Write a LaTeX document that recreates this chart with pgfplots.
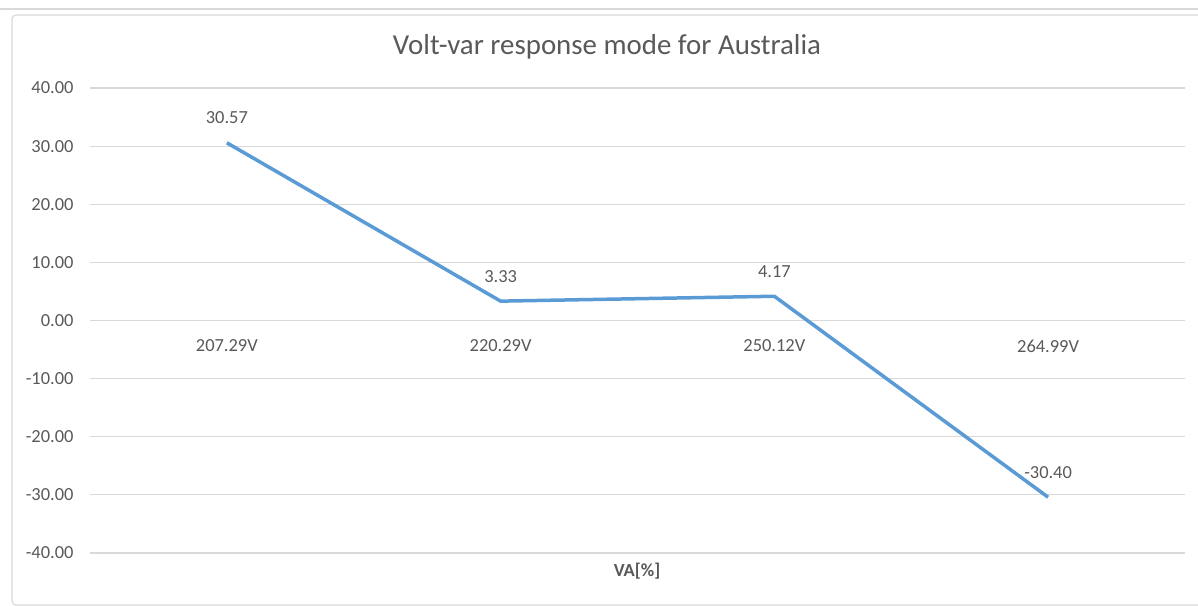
\documentclass[border=0pt]{standalone}
\usepackage{pgfplots}
\pgfplotsset{compat=1.18}
\usepackage{fontspec}
\setmainfont{Carlito}
\definecolor{txt}{HTML}{595959}
\definecolor{gridc}{HTML}{D9D9D9}
\definecolor{linec}{HTML}{5B9BD5}
\begin{document}
\begin{tikzpicture}
\path[use as bounding box] (0,0) rectangle (1198bp,606bp);
\draw[gridc, line width=1.5bp] (0,597bp) -- (1198bp,597bp);
\draw[gridc, line width=1.2bp, rounded corners=4bp] (1198bp,1bp) -- (12bp,1bp) -- (12bp,591bp) -- (1198bp,591bp);
\begin{axis}[at={(90bp,53bp)}, anchor=south west, scale only axis,
  width=1095bp, height=465bp,
  xmin=-0.5, xmax=3.5, ymin=-40, ymax=40, ytick={-40,-30,...,40},
  xtick={0,1,2,3}, xticklabels={207.29V,220.29V,250.12V,264.99V},
  axis line style={draw=none}, major tick length=0pt,
  ymajorgrids, grid style={gridc, line width=1.2bp},
  yticklabel={\pgfmathprintnumber[fixed,fixed zerofill,precision=2]{\tick}},
  /pgf/number format/assume math mode=true,
  ticklabel style={font=\fontsize{18.5}{22}\selectfont, text=txt},
  yticklabel style={anchor=east, xshift=-13bp},
  xticklabel style={anchor=center, yshift=207bp},
  clip=false,
  nodes near coords, point meta=explicit symbolic,
  nodes near coords style={font=\fontsize{18.5}{22}\selectfont, text=txt, anchor=center, yshift=25bp},
]
\addplot[linec, line width=3.5bp, mark=none, line join=round] table[meta=lab] {
x y lab
0 30.57 30.57
1 3.33 3.33
2 4.17 4.17
3 -30.40 -30.40
};
\end{axis}
\node[text=txt, font=\fontsize{29}{34}\selectfont] at (607bp,559bp) {Volt-var response mode for Australia};
\node[text=txt, font=\fontsize{18.5}{22}\selectfont\bfseries] at (637bp,35bp) {VA[\%]};
\end{tikzpicture}
\end{document}
